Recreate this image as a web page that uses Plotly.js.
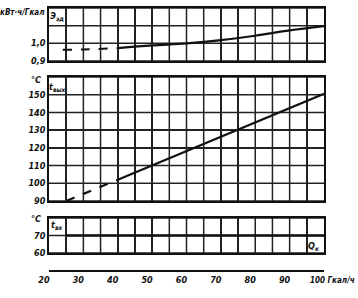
<!DOCTYPE html>
<html>
<head>
<meta charset="utf-8">
<script src="https://cdn.plot.ly/plotly-3.0.1.min.js"></script>
<style>html,body{margin:0;padding:0;background:#fff;}#chart{width:358px;height:298px;}</style>
</head>
<body>
<div id="chart"></div>
<script>
// ---- data ----
const xTicks = [20, 30, 40, 50, 60, 70, 80, 90, 100];
const xTickText = ['20', '30', '40', '50', '60', '70', '80', '90', ''];
const xLastLabel = '100 Гкал/ч';

// top panel: specific power consumption Э_эд, кВт·ч/Гкал
const qE = [24, 30, 40, 50, 60, 70, 80, 90, 100];
const eEd = [0.963, 0.965, 0.973, 0.988, 1.0, 1.018, 1.043, 1.073, 1.097];
const eDashEnd = 3; // first 3 points drawn dashed

// middle panel: outlet temperature t_вых, °C
const qOut = [25, 40, 100];
const tOut = [90, 102, 150.5];
const outDashEnd = 2;

// bottom panel: inlet temperature t_вх, °C
const qIn = [25, 100];
const tIn = [70, 70];

const eTickVals = [0.9, 1.0, 1.1, 1.2];
const eTickText = ['0,9', '1,0', '', ''];
const outTickVals = [90, 100, 110, 120, 130, 140, 150, 160];
const outTickText = ['90', '100', '110', '120', '130', '140', '150', ''];
const inTickVals = [60, 70, 80];
const inTickText = ['60', '70', ''];
const gridXVals = [25, 30, 35, 40, 45, 50, 55, 60, 65, 70, 75, 80, 85, 90, 95];

// ---- layout helpers ----
const W = 358, H = 298;
const L = 49, R = 324, T = 8, B = 270;
const px = x => (x - L) / (R - L);
const py = y => (B - y) / (B - T);

const ink = '#111111';
const gridC = '#222222';
const fam = 'Liberation Sans Narrow, DejaVu Sans Condensed, Arial Narrow, sans-serif';
const tf = {family: fam, size: 9, color: ink, style: 'italic', weight: 'bold'};

const panelX = (anchor) => ({
  anchor: anchor, range: [20, 100], showticklabels: false,
  tickmode: 'array', tickvals: gridXVals, showgrid: true, gridcolor: gridC, gridwidth: 1.5,
  showline: true, linecolor: ink, linewidth: 1.8, mirror: true, ticks: '', zeroline: false
});
const panelY = (anchor, dom, range, tv, tt) => ({
  anchor: anchor, domain: dom, range: range, showgrid: true, gridcolor: gridC, gridwidth: 1.5,
  showline: true, linecolor: ink, linewidth: 1.8, mirror: true, ticks: '', zeroline: false,
  tickmode: 'array', tickvals: tv, ticktext: tt, tickfont: tf
});

const panels = [
  {x: 'x2', y: 'y2', dom: [py(253), py(218)], range: [60, 80], yv: inTickVals},
  {x: 'x3', y: 'y3', dom: [py(201), py(77)], range: [90, 160], yv: outTickVals},
  {x: 'x4', y: 'y4', dom: [py(61), py(8)], range: [0.9, 1.2], yv: eTickVals}
];

// grid lines of each panel as line traces through the panel's own axes
const gridTraces = panels.map(p => {
  const gx = [], gy = [];
  gridXVals.forEach(v => { gx.push(v, v, null); gy.push(p.range[0], p.range[1], null); });
  p.yv.forEach(v => { gx.push(20, 100, null); gy.push(v, v, null); });
  return {x: gx, y: gy, xaxis: p.x, yaxis: p.y, mode: 'lines', line: {color: gridC, width: 1.5},
          hoverinfo: 'skip', showlegend: false, connectgaps: false};
});

const lineStyle = (dash, w, shape) => ({color: ink, width: w, dash: dash, shape: shape || 'linear'});

const traces = gridTraces.concat([
  {x: qE.slice(0, eDashEnd), y: eEd.slice(0, eDashEnd), xaxis: 'x4', yaxis: 'y4', mode: 'lines', line: lineStyle('dash', 2, 'spline'), showlegend: false},
  {x: qE.slice(eDashEnd - 1), y: eEd.slice(eDashEnd - 1), xaxis: 'x4', yaxis: 'y4', mode: 'lines', line: lineStyle('solid', 2.2, 'spline'), showlegend: false},
  {x: qOut.slice(0, outDashEnd), y: tOut.slice(0, outDashEnd), xaxis: 'x3', yaxis: 'y3', mode: 'lines', line: lineStyle('dash', 2.2), showlegend: false},
  {x: qOut.slice(outDashEnd - 1), y: tOut.slice(outDashEnd - 1), xaxis: 'x3', yaxis: 'y3', mode: 'lines', line: lineStyle('solid', 2.2), showlegend: false},
  {x: qIn, y: tIn, xaxis: 'x2', yaxis: 'y2', mode: 'lines', line: lineStyle('solid', 2.4), showlegend: false},
  {x: [20, 100], y: [0, 0], xaxis: 'x', yaxis: 'y', mode: 'markers', marker: {opacity: 0}, hoverinfo: 'skip', showlegend: false}
]);

const ann = (text, x, y, xanchor, size) => ({
  text: text, xref: 'paper', yref: 'paper', x: px(x), y: py(y), xanchor: xanchor || 'center', yanchor: 'middle',
  showarrow: false, font: Object.assign({}, tf, {size: size || 9})
});

const layout = {
  width: W, height: H,
  margin: {l: L, r: W - R, t: T, b: H - B, pad: 0},
  paper_bgcolor: '#fff', plot_bgcolor: 'rgba(0,0,0,0)',
  showlegend: false,
  xaxis: {
    anchor: 'y', range: [20, 100], tickmode: 'array', tickvals: xTicks, ticktext: xTickText,
    showgrid: false, zeroline: false, showline: true, linecolor: ink, linewidth: 2, ticks: '',
    tickfont: tf, ticklabelshift: -5
  },
  yaxis: {domain: [0, 0.01], visible: false, range: [0, 1]},
  xaxis2: panelX('y2'),
  yaxis2: panelY('x2', panels[0].dom, panels[0].range, inTickVals, inTickText),
  xaxis3: panelX('y3'),
  yaxis3: panelY('x3', panels[1].dom, panels[1].range, outTickVals, outTickText),
  xaxis4: panelX('y4'),
  yaxis4: panelY('x4', panels[2].dom, panels[2].range, eTickVals, eTickText),
  annotations: [
    ann('кВт·ч/Гкал', 47, 13, 'right', 8),
    ann('Э<sub>эд</sub>', 57, 16),
    ann('°C', 36, 80),
    ann('t<sub>вых</sub>', 57, 87),
    ann('°C', 36, 219),
    ann('t<sub>вх</sub>', 56, 226),
    ann('Q<sub>к</sub>', 313, 246),
    ann(xLastLabel, 308, 280, 'left', 8)
  ]
};

Plotly.newPlot('chart', traces, layout, {staticPlot: true, displayModeBar: false});
</script>
</body>
</html>
